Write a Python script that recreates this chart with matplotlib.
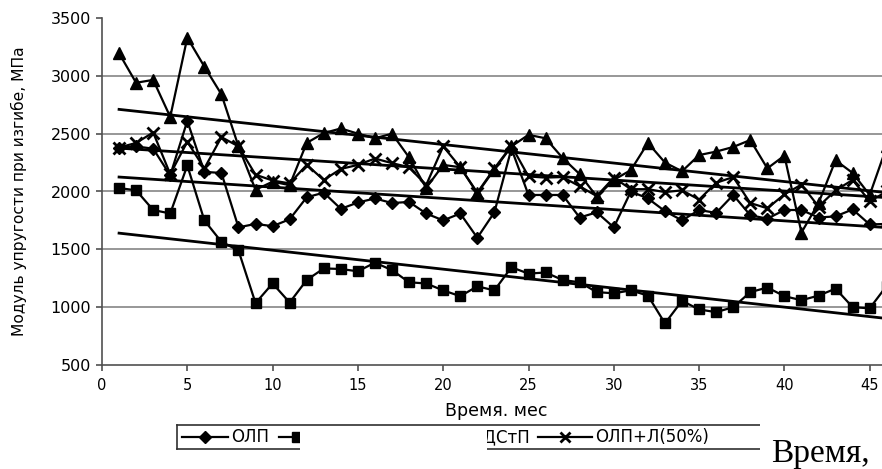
import numpy as np
import matplotlib
matplotlib.use("Agg")
import matplotlib.pyplot as plt
from matplotlib.lines import Line2D
from matplotlib.patches import Rectangle

# --- данные ---
months = list(range(1, 47))

olp = [2380, 2390, 2370, 2140, 2610, 2170, 2160, 1690, 1720, 1700,
       1760, 1950, 1990, 1850, 1905, 1940, 1900, 1910, 1810, 1750,
       1810, 1600, 1820, 2370, 1970, 1970, 1970, 1775, 1820, 1690,
       2000, 1940, 1830, 1750, 1840, 1815, 1970, 1795, 1765, 1840,
       1840, 1775, 1785, 1845, 1715, 1720]

olp_stp = [2030, 2010, 1840, 1810, 2225, 1750, 1565, 1490, 1035, 1205,
           1040, 1235, 1335, 1330, 1310, 1385, 1320, 1215, 1205, 1145,
           1095, 1180, 1145, 1345, 1290, 1300, 1235, 1215, 1130, 1120,
           1145, 1100, 860, 1055, 980, 957, 1000, 1130, 1170, 1095,
           1060, 1100, 1160, 1000, 990, 1185]

olp_dstp = [3195, 2940, 2965, 2645, 3330, 3080, 2840, 2390, 2015, 2085,
            2055, 2420, 2505, 2545, 2500, 2460, 2500, 2295, 2030, 2230,
            2210, 1985, 2190, 2390, 2490, 2460, 2290, 2150, 1955, 2100,
            2185, 2420, 2250, 2175, 2315, 2345, 2385, 2445, 2200, 2310,
            1645, 1900, 2270, 2160, 1970, 2390]

olp_l50 = [2380, 2420, 2510, 2150, 2430, 2200, 2470, 2390, 2145, 2095,
           2070, 2230, 2100, 2195, 2230, 2285, 2245, 2210, 2055, 2390,
           2210, 1990, 2200, 2395, 2130, 2120, 2125, 2045, 1960, 2120,
           2020, 2020, 1995, 2010, 1930, 2075, 2125, 1900, 1855, 1975,
           2060, 1870, 2010, 2100, 1915, 2000]

# линейные тренды: значения в начале и в конце периода
trend_x = [1, 46]
trend_olp = [2125, 1688]
trend_olp_stp = [1640, 902]
trend_olp_dstp = [2710, 1990]
trend_olp_l50 = [2375, 1947]

labels = ['ОЛП', 'ОЛП+СтП', 'ОЛП+ДСтП', 'ОЛП+Л(50%)']

W, H = 882, 469
fig = plt.figure(figsize=(W / 100, H / 100), dpi=100)
plt.rcParams['font.family'] = ['DejaVu Sans']


def fx(x):
    return x / W


def fy(y):
    return 1 - y / H


# ось: 0 мес -> x=102 px, 500 -> y=365 px, 3500 -> y=18 px
px_per_month = 17.06
xmax = 46.2
ax = fig.add_axes([fx(102), fy(365), xmax * px_per_month / W, 347 / H])
ax.set_xlim(0, xmax)
ax.set_ylim(500, 3500)

ax.set_yticks(np.arange(500, 3501, 500))
ax.set_xticks(np.arange(0, 46, 5))
for y in range(1000, 3001, 500):
    ax.axhline(y, color='#7a7a7a', lw=1.1, zorder=0)

for s in ['top', 'right']:
    ax.spines[s].set_visible(False)
for s in ['left', 'bottom']:
    ax.spines[s].set_color('#505050')
    ax.spines[s].set_linewidth(1.2)
ax.tick_params(axis='both', direction='out', length=4, width=1.2, color='#505050')
ax.tick_params(axis='y', labelsize=11.5, pad=4)
ax.tick_params(axis='x', labelsize=10.5, pad=5)

ax.set_ylabel('Модуль упругости при изгибе, МПа', fontsize=11.2, labelpad=17)
ax.set_xlabel('Время. мес', fontsize=12.5, labelpad=7)

lw = 1.6
ax.plot(months, olp, color='black', lw=lw, marker='D', ms=6.5, clip_on=False, zorder=3)
ax.plot(months, olp_stp, color='black', lw=lw, marker='s', ms=7.5, clip_on=False, zorder=3)
ax.plot(months, olp_dstp, color='black', lw=lw, marker='^', ms=8, clip_on=False, zorder=3)
ax.plot(months, olp_l50, color='black', lw=lw, marker='x', ms=8.5, mew=2, clip_on=False, zorder=3)

for tr in [trend_olp, trend_olp_stp, trend_olp_dstp, trend_olp_l50]:
    ax.plot(trend_x, tr, color='black', lw=2, clip_on=False, zorder=2)

# --- легенда (частично закрыта, как на скане) ---
ly = 437
lfs = 12
tf = fig.transFigure
fig.add_artist(Line2D([fx(177), fx(760)], [fy(425), fy(425)], color='#303030', lw=1.2, transform=tf))
fig.add_artist(Line2D([fx(177), fx(760)], [fy(449), fy(449)], color='#303030', lw=1.2, transform=tf))
fig.add_artist(Line2D([fx(177), fx(177)], [fy(425), fy(449)], color='#303030', lw=1.2, transform=tf))

fig.add_artist(Line2D([fx(182), fx(228)], [fy(ly), fy(ly)], color='black', lw=lw, transform=tf))
fig.add_artist(Line2D([fx(205)], [fy(ly)], color='black', marker='D', ms=6, transform=tf))
fig.text(fx(231), fy(ly), labels[0], fontsize=lfs, va='center', ha='left')

fig.add_artist(Line2D([fx(279), fx(320)], [fy(ly), fy(ly)], color='black', lw=lw, transform=tf))
fig.add_artist(Line2D([fx(297)], [fy(ly)], color='black', marker='s', ms=7, transform=tf))
fig.text(fx(324), fy(ly), labels[1], fontsize=lfs, va='center', ha='left')

fig.add_artist(Line2D([fx(380), fx(420)], [fy(ly), fy(ly)], color='black', lw=lw, transform=tf))
fig.text(fx(530), fy(ly), labels[2], fontsize=lfs, va='center', ha='right')

fig.add_artist(Line2D([fx(538), fx(592)], [fy(ly), fy(ly)], color='black', lw=lw, transform=tf))
fig.add_artist(Line2D([fx(565)], [fy(ly)], color='black', marker='x', ms=7.5, mew=2, transform=tf))
fig.text(fx(595), fy(ly), labels[3], fontsize=lfs, va='center', ha='left')

# белые области, закрывающие часть легенды
fig.add_artist(Rectangle((fx(300), fy(453)), fx(487) - fx(300), fy(426.5) - fy(453),
                         transform=tf, facecolor='white', edgecolor='none', zorder=5))
fig.add_artist(Rectangle((fx(760), 0), 1 - fx(760), fy(418), transform=tf,
                         facecolor='white', edgecolor='none', zorder=5))

fig.text(fx(771), fy(462), 'Время,', fontsize=24, family='Liberation Serif',
         ha='left', va='baseline', zorder=6)

fig.savefig('out.png', dpi=100)
